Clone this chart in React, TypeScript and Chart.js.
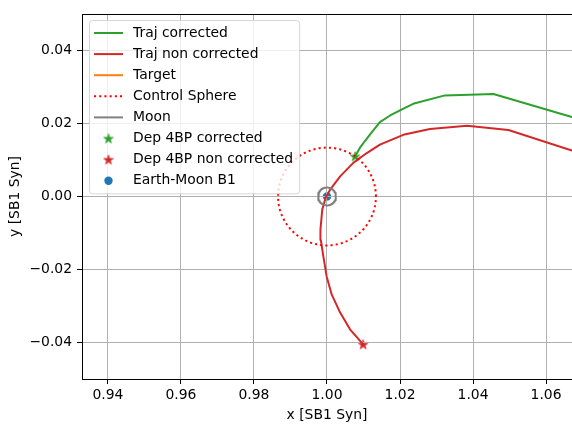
import React, { useEffect, useRef } from 'react';
import { Chart, registerables } from 'chart.js';

Chart.register(...registerables);

// ---------- data ----------
const xTicks = [0.94, 0.96, 0.98, 1.0, 1.02, 1.04, 1.06];
const yTicks = [-0.04, -0.02, 0.0, 0.02, 0.04];
const xLimits = [0.93288, 1.06712];
const yLimits = [-0.05, 0.05];

const trajCorrectedX = [1.0077, 1.009, 1.0104, 1.0118, 1.0145, 1.0173, 1.02, 1.0236, 1.0323, 1.0456, 1.0671, 1.08];
const trajCorrectedY = [0.011, 0.0133, 0.0152, 0.017, 0.0204, 0.0222, 0.0236, 0.0254, 0.0277, 0.0281, 0.0218, 0.018];

const trajNonCorrectedX = [1.0099, 1.0063, 1.0036, 1.0013, 0.9999, 0.999, 0.9983, 0.9982, 0.9987, 0.9996, 1.0008, 1.0036, 1.0072, 1.0109, 1.0145, 1.0209, 1.0282, 1.0384, 1.0497, 1.0671, 1.08];
const trajNonCorrectedY = [-0.0405, -0.0364, -0.0318, -0.0269, -0.0219, -0.0164, -0.0119, -0.0091, -0.0036, -0.0004, 0.0018, 0.0055, 0.0092, 0.0119, 0.0142, 0.0169, 0.0185, 0.0194, 0.0182, 0.0126, 0.0086];

const targetX: number[] = [];
const targetY: number[] = [];

const sphereCenter = [1.0, 0.0];
const sphereRadius = 0.0134;
const moonCenter = [1.0, 0.0];
const moonRadius = 0.00245;

const dep4bpCorrected = [1.0077, 0.011];
const dep4bpNonCorrected = [1.0099, -0.0405];
const earthMoonB1 = [1.0, 0.0];

const seriesLabels = [
  'Traj corrected',
  'Traj non corrected',
  'Target',
  'Control Sphere',
  'Moon',
  'Dep 4BP corrected',
  'Dep 4BP non corrected',
  'Earth-Moon B1',
];

// ---------- styles ----------
const FONT = '"DejaVu Sans", "Liberation Sans", sans-serif';
const FS = 13.9;
const GREEN = '#2ca02c';
const RED = '#d62728';
const ORANGE = '#ff7f0e';
const PURE_RED = '#ff0000';
const GRAY = '#808080';
const BLUE = '#1f77b4';

const zip = (xs: number[], ys: number[]) => xs.map((x, i) => ({ x, y: ys[i] }));

function circlePoints(c: number[], r: number, n = 240) {
  const pts: { x: number; y: number }[] = [];
  for (let i = 0; i <= n; i++) {
    const a = (i / n) * Math.PI * 2;
    pts.push({ x: c[0] + r * Math.cos(a), y: c[1] + r * Math.sin(a) });
  }
  return pts;
}

function makeStar(color: string, R: number) {
  const size = Math.ceil(R * 2 + 2);
  const c = document.createElement('canvas');
  c.width = size;
  c.height = size;
  const g = c.getContext('2d')!;
  g.translate(size / 2, size / 2 + R * 0.09);
  g.beginPath();
  for (let i = 0; i < 10; i++) {
    const r = i % 2 === 0 ? R : R * 0.381966;
    const a = -Math.PI / 2 + (i * Math.PI) / 5;
    const px = r * Math.cos(a);
    const py = r * Math.sin(a);
    if (i === 0) g.moveTo(px, py);
    else g.lineTo(px, py);
  }
  g.closePath();
  g.fillStyle = color;
  g.fill();
  g.strokeStyle = color;
  g.lineWidth = 0.8;
  g.lineJoin = 'round';
  g.stroke();
  return c;
}

const fmt = (v: number) => {
  const s = Math.abs(v) < 1e-9 ? '0.00' : v.toFixed(2);
  return s.replace('-', '\u2212');
};

// draws marker datasets beneath the grid (as matplotlib scatter zorder)
const underGridPlugin = {
  id: 'underGrid',
  beforeDraw(chart: any) {
    chart.data.datasets.forEach((ds: any, i: number) => {
      if (ds.underGrid) {
        const meta = chart.getDatasetMeta(i);
        if (!meta.hidden) meta.controller.draw();
      }
    });
  },
  beforeDatasetDraw(chart: any, args: any) {
    const ds = chart.data.datasets[args.index];
    if (ds && ds.underGrid) return false;
  },
};

const framePlugin = {
  id: 'frameAndLegend',
  afterDatasetsDraw(chart: any) {
    const ctx = chart.ctx as CanvasRenderingContext2D;
    const area = chart.chartArea;
    ctx.save();
    // top spine
    ctx.strokeStyle = '#000';
    ctx.lineWidth = 1;
    ctx.beginPath();
    ctx.moveTo(area.left, Math.round(area.top) + 0.5);
    ctx.lineTo(area.right, Math.round(area.top) + 0.5);
    ctx.stroke();

    // legend
    const datasets = chart.data.datasets as any[];
    ctx.font = `${FS}px ${FONT}`;
    const x0 = area.left + 7;
    const y0 = area.top + 6;
    const firstY = y0 + 13;
    const rowH = 21.1;
    const textX = x0 + 44;
    let maxW = 0;
    datasets.forEach((ds) => {
      maxW = Math.max(maxW, ctx.measureText(ds.label).width);
    });
    const w = textX + maxW + 6 - x0;
    const h = firstY + rowH * (datasets.length - 1) + 12.6 - y0;
    ctx.beginPath();
    (ctx as any).roundRect(x0 + 0.5, y0 + 0.5, w, h, 3);
    ctx.fillStyle = 'rgba(255,255,255,0.8)';
    ctx.fill();
    ctx.strokeStyle = 'rgba(204,204,204,0.8)';
    ctx.lineWidth = 1;
    ctx.stroke();

    datasets.forEach((ds, i) => {
      const cy = firstY + i * rowH;
      if (ds.legendKind === 'line') {
        ctx.save();
        ctx.strokeStyle = ds.borderColor;
        ctx.lineWidth = ds.borderWidth;
        ctx.setLineDash(ds.borderDash || []);
        ctx.lineCap = 'butt';
        ctx.beginPath();
        ctx.moveTo(x0 + 5, cy);
        ctx.lineTo(x0 + 34, cy);
        ctx.stroke();
        ctx.restore();
      } else {
        const mx = x0 + 19.5;
        if (ds.pointStyle && typeof ds.pointStyle === 'object') {
          const img = ds.pointStyle as HTMLCanvasElement;
          ctx.drawImage(img, mx - img.width / 2, cy - img.height / 2);
        } else {
          ctx.beginPath();
          ctx.arc(mx, cy, ds.pointRadius, 0, Math.PI * 2);
          ctx.fillStyle = ds.backgroundColor;
          ctx.fill();
        }
      }
      ctx.fillStyle = '#000';
      ctx.textAlign = 'left';
      ctx.textBaseline = 'middle';
      ctx.fillText(ds.label, textX, cy);
    });
    ctx.restore();
  },
};

export default function App() {
  const ref = useRef<HTMLCanvasElement>(null);

  useEffect(() => {
    if (!ref.current) return;
    const lineDs = (label: string, data: any[], color: string, extra: any = {}) => ({
      label,
      data,
      showLine: true,
      borderColor: color,
      backgroundColor: color,
      borderWidth: 2,
      pointRadius: 0,
      pointHoverRadius: 0,
      tension: 0,
      fill: false,
      borderJoinStyle: 'round',
      borderCapStyle: 'butt',
      legendKind: 'line',
      ...extra,
    });
    const markerDs = (label: string, pt: number[], color: string, style: any, radius: number) => ({
      label,
      data: [{ x: pt[0], y: pt[1] }],
      showLine: false,
      pointStyle: style,
      pointRadius: radius,
      pointHoverRadius: radius,
      backgroundColor: color,
      borderColor: color,
      borderWidth: 0,
      legendKind: 'marker',
      underGrid: true,
    });

    const datasets: any[] = [
      lineDs(seriesLabels[0], zip(trajCorrectedX, trajCorrectedY), GREEN),
      lineDs(seriesLabels[1], zip(trajNonCorrectedX, trajNonCorrectedY), RED),
      lineDs(seriesLabels[2], zip(targetX, targetY), ORANGE),
      lineDs(seriesLabels[3], circlePoints(sphereCenter, sphereRadius), PURE_RED, { borderDash: [2.1, 3.1] }),
      lineDs(seriesLabels[4], circlePoints(moonCenter, moonRadius, 120), GRAY),
      markerDs(seriesLabels[5], dep4bpCorrected, GREEN, makeStar(GREEN, 5.0), 5.0),
      markerDs(seriesLabels[6], dep4bpNonCorrected, RED, makeStar(RED, 5.0), 5.0),
      markerDs(seriesLabels[7], earthMoonB1, BLUE, 'circle', 4.2),
    ];
    datasets.forEach((d, i) => (d.order = -i));

    const chart = new Chart(ref.current, {
      type: 'scatter',
      data: { datasets },
      plugins: [underGridPlugin, framePlugin],
      options: {
        animation: false,
        responsive: false,
        devicePixelRatio: 1,
        events: [],
        layout: { autoPadding: false, padding: { left: 0, top: 14, right: 0, bottom: 0 } },
        font: { family: FONT, size: FS },
        plugins: {
          legend: { display: false },
          tooltip: { enabled: false },
          title: { display: false },
        },
        scales: {
          x: {
            type: 'linear',
            min: xLimits[0],
            max: xLimits[1],
            afterFit: (s: any) => {
              s.height = 45;
              s.paddingLeft = 0;
              s.paddingRight = 0;
            },
            afterBuildTicks: (s: any) => {
              s.ticks = xTicks.map((v) => ({ value: v }));
            },
            ticks: {
              autoSkip: false,
              maxRotation: 0,
              minRotation: 0,
              padding: 3,
              color: '#000',
              font: { family: FONT, size: FS },
              callback: (v: any) => fmt(Number(v)),
            },
            grid: {
              color: '#b0b0b0',
              lineWidth: 1,
              drawTicks: true,
              tickLength: 5,
              tickColor: '#000',
              tickWidth: 1,
            },
            border: { color: '#000', width: 1 },
            title: {
              display: true,
              text: 'x [SB1 Syn]',
              color: '#000',
              font: { family: FONT, size: FS },
              padding: { top: 0, bottom: 0 },
            },
          },
          y: {
            type: 'linear',
            min: yLimits[0],
            max: yLimits[1],
            afterFit: (s: any) => {
              s.width = 82;
              s.paddingTop = 0;
              s.paddingBottom = 0;
            },
            afterBuildTicks: (s: any) => {
              s.ticks = yTicks.map((v) => ({ value: v }));
            },
            ticks: {
              autoSkip: false,
              padding: 5,
              color: '#000',
              font: { family: FONT, size: FS },
              callback: (v: any) => fmt(Number(v)),
            },
            grid: {
              color: '#b0b0b0',
              lineWidth: 1,
              drawTicks: true,
              tickLength: 5,
              tickColor: '#000',
              tickWidth: 1,
            },
            border: { color: '#000', width: 1 },
            title: {
              display: true,
              text: 'y [SB1 Syn]',
              color: '#000',
              font: { family: FONT, size: FS },
              padding: { top: 6.7, bottom: 0 },
            },
          },
        },
      } as any,
    });
    return () => chart.destroy();
  }, []);

  return (
    <canvas
      ref={ref}
      width={572}
      height={424}
      style={{ position: 'fixed', left: 0, top: 0, width: 572, height: 424, background: '#fff' }}
    />
  );
}
